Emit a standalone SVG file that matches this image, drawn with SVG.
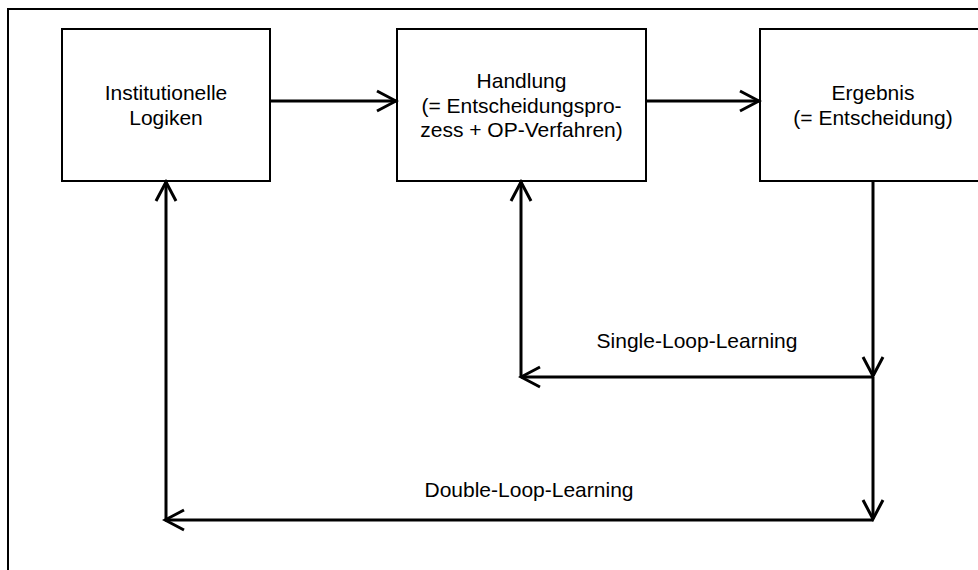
<svg xmlns="http://www.w3.org/2000/svg" width="978" height="570" viewBox="0 0 978 570">
<style>
.box{fill:#fff;stroke:#000;stroke-width:2}
.t{font-family:"Liberation Sans",Arial,sans-serif;font-size:21px;fill:#000;text-anchor:middle}
.c{fill:none;stroke:#000;stroke-width:3;stroke-linejoin:miter}
</style>
<defs>
<marker id="ah" viewBox="0 0 24 24" refX="21" refY="12" markerWidth="24" markerHeight="24" markerUnits="userSpaceOnUse" orient="auto">
<path d="M2,2 L21,12 L2,22" fill="none" stroke="#000" stroke-width="3"/>
</marker>
</defs>
<rect x="8" y="9" width="1000" height="600" fill="#fff" stroke="#000" stroke-width="2"/>
<g id="n1">
<rect class="box" x="62" y="29" width="208" height="152"/>
<text class="t" x="166" y="100">Institutionelle</text>
<text class="t" x="166" y="125">Logiken</text>
</g>
<g id="n2">
<rect class="box" x="397" y="29" width="249" height="152"/>
<text class="t" x="521.5" y="88">Handlung</text>
<text class="t" x="521.5" y="113">(= Entscheidungspro-</text>
<text class="t" x="521.5" y="137">zess + OP-Verfahren)</text>
</g>
<g id="n3">
<rect class="box" x="760" y="29" width="226" height="152"/>
<text class="t" x="873" y="100">Ergebnis</text>
<text class="t" x="873" y="125">(= Entscheidung)</text>
</g>
<g id="connectors">
<line class="c" x1="270" y1="101" x2="396" y2="101" marker-end="url(#ah)"/>
<line class="c" x1="646" y1="101" x2="759" y2="101" marker-end="url(#ah)"/>
<line class="c" x1="873" y1="181" x2="873" y2="376" marker-end="url(#ah)"/>
<line class="c" x1="873" y1="377" x2="521" y2="377" marker-end="url(#ah)"/>
<line class="c" x1="521" y1="377" x2="521" y2="182" marker-end="url(#ah)"/>
<line class="c" x1="873" y1="377" x2="873" y2="519" marker-end="url(#ah)"/>
<line class="c" x1="873" y1="520" x2="165" y2="520" marker-end="url(#ah)"/>
<line class="c" x1="166" y1="520" x2="166" y2="182" marker-end="url(#ah)"/>
<text class="t" x="697" y="348">Single-Loop-Learning</text>
<text class="t" x="529" y="497">Double-Loop-Learning</text>
</g>
</svg>
